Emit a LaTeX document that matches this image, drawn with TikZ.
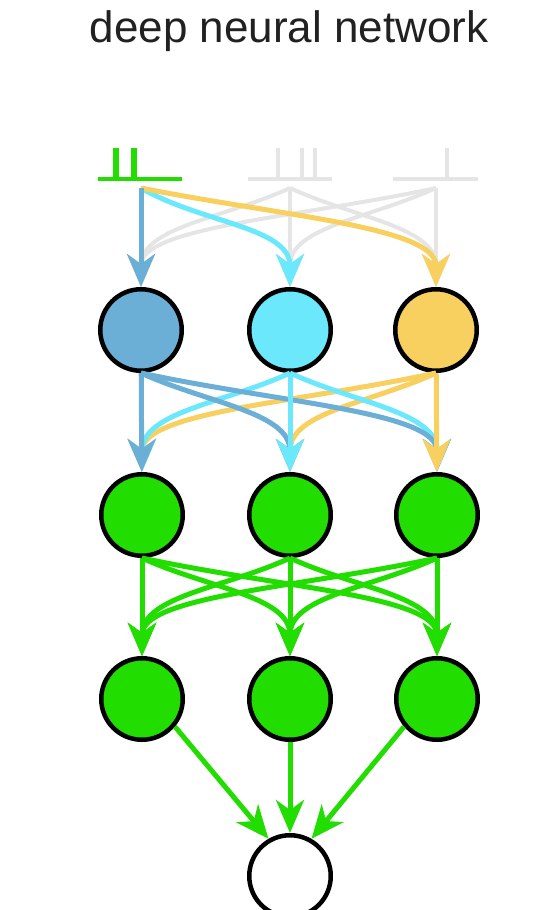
\documentclass[tikz,border=0pt]{standalone}
\usepackage{fontspec}
\setmainfont{Liberation Sans}
\usetikzlibrary{arrows.meta}
\usetikzlibrary{positioning}

\definecolor{nblue}{RGB}{107,174,214}
\definecolor{ncyan}{RGB}{108,232,252}
\definecolor{nyellow}{RGB}{248,208,96}
\definecolor{ngreen}{RGB}{34,221,0}
\definecolor{ngray}{RGB}{229,229,229}

\tikzset{neuron/.style = {draw=black, line width=4.5pt, circle, minimum size=81.5pt, inner sep=0}}
\tikzset{syn/.style = {line width=5pt, -{Stealth[length=33pt, width=28pt, inset=10pt]}}}
\tikzset{train/.style = {line width=4pt}}

\begin{document}
\begin{tikzpicture}[x=1pt, y=-1pt]
      \useasboundingbox (0,0) rectangle (545,910);
      \node [anchor=base, font=\fontsize{44}{50}\selectfont, text=black!87] (title) at (289,42) {deep neural network};

      % input spike trains
      \draw [train, ngreen] (98,179) -- (182,179);
      \draw [ngreen, line width=6.5pt] (116,148) -- (116,179) (134,148) -- (134,179);
      \draw [train, ngray] (248,179) -- (332,179);
      \draw [ngray, line width=3.5pt] (278,148) -- (278,179) (302,148) -- (302,179) (315,148) -- (315,179);
      \draw [train, ngray] (393,179) -- (478,179);
      \draw [ngray, line width=3.5pt] (447,148) -- (447,179);

      \coordinate (in0) at (141,188);
      \coordinate (in1) at (290,188);
      \coordinate (in2) at (436,188);

      \node [neuron, fill=nblue]   (h1a) at (141,330) {};
      \node [neuron, fill=ncyan]   (h1b) at (290,330) {};
      \node [neuron, fill=nyellow] (h1c) at (436,330) {};
      \node [neuron, fill=ngreen]  (h2a) at (142,515) {};
      \node [neuron, fill=ngreen]  (h2b) at (290,515) {};
      \node [neuron, fill=ngreen]  (h2c) at (437,515) {};
      \node [neuron, fill=ngreen]  (h3a) at (142,699) {};
      \node [neuron, fill=ngreen]  (h3b) at (290,699) {};
      \node [neuron, fill=ngreen]  (h3c) at (437,699) {};
      \node [neuron, fill=white]   (out) at (290,876) {};

      % inputs to first layer
      \foreach \s/\t/\dx in {in1/h1a/-65, in1/h1c/65, in2/h1a/-140, in2/h1b/-65} {
        \draw [syn, ngray, line width=4pt] (\s) .. controls +(\dx,30) and +(0,-60) .. (\t.north);
      }
      \draw [syn, ngray, line width=4pt] (in1) -- (h1b.north);
      \draw [syn, ngray, line width=4pt] (in2) -- (h1c.north);
      \draw [syn, ncyan] (in0) .. controls +(60,35) and +(0,-60) .. (h1b.north);
      \draw [syn, nyellow] (in0) .. controls +(140,28) and +(0,-60) .. (h1c.north);
      \draw [syn, nblue] (in0) -- (h1a.north);

      % first to second layer
      \foreach \s/\t/\dx/\c in {h1c/h2a/-140/nyellow, h1c/h2b/-65/nyellow,
                                h1b/h2a/-65/ncyan, h1b/h2c/65/ncyan,
                                h1a/h2b/65/nblue, h1a/h2c/140/nblue} {
        \draw [syn, \c] (\s.south) .. controls +(\dx,30) and +(0,-60) .. (\t.north);
      }
      \foreach \s/\t/\c in {h1a/h2a/nblue, h1b/h2b/ncyan, h1c/h2c/nyellow} {
        \draw [syn, \c] (\s) -- (\t);
      }

      % second to third layer
      \foreach \s/\t/\dx in {h2a/h3b/65, h2a/h3c/140, h2b/h3a/-65, h2b/h3c/65, h2c/h3a/-140, h2c/h3b/-65} {
        \draw [syn, ngreen] (\s.south) .. controls +(\dx,30) and +(0,-60) .. (\t.north);
      }
      \foreach \s/\t in {h2a/h3a, h2b/h3b, h2c/h3c} {
        \draw [syn, ngreen] (\s) -- (\t);
      }

      % third layer to output
      \draw [syn, ngreen] (h3a.-40) -- (out.120);
      \draw [syn, ngreen] (h3b) -- (out);
      \draw [syn, ngreen] (h3c.-140) -- (out.60);

    \end{tikzpicture}
\end{document}
